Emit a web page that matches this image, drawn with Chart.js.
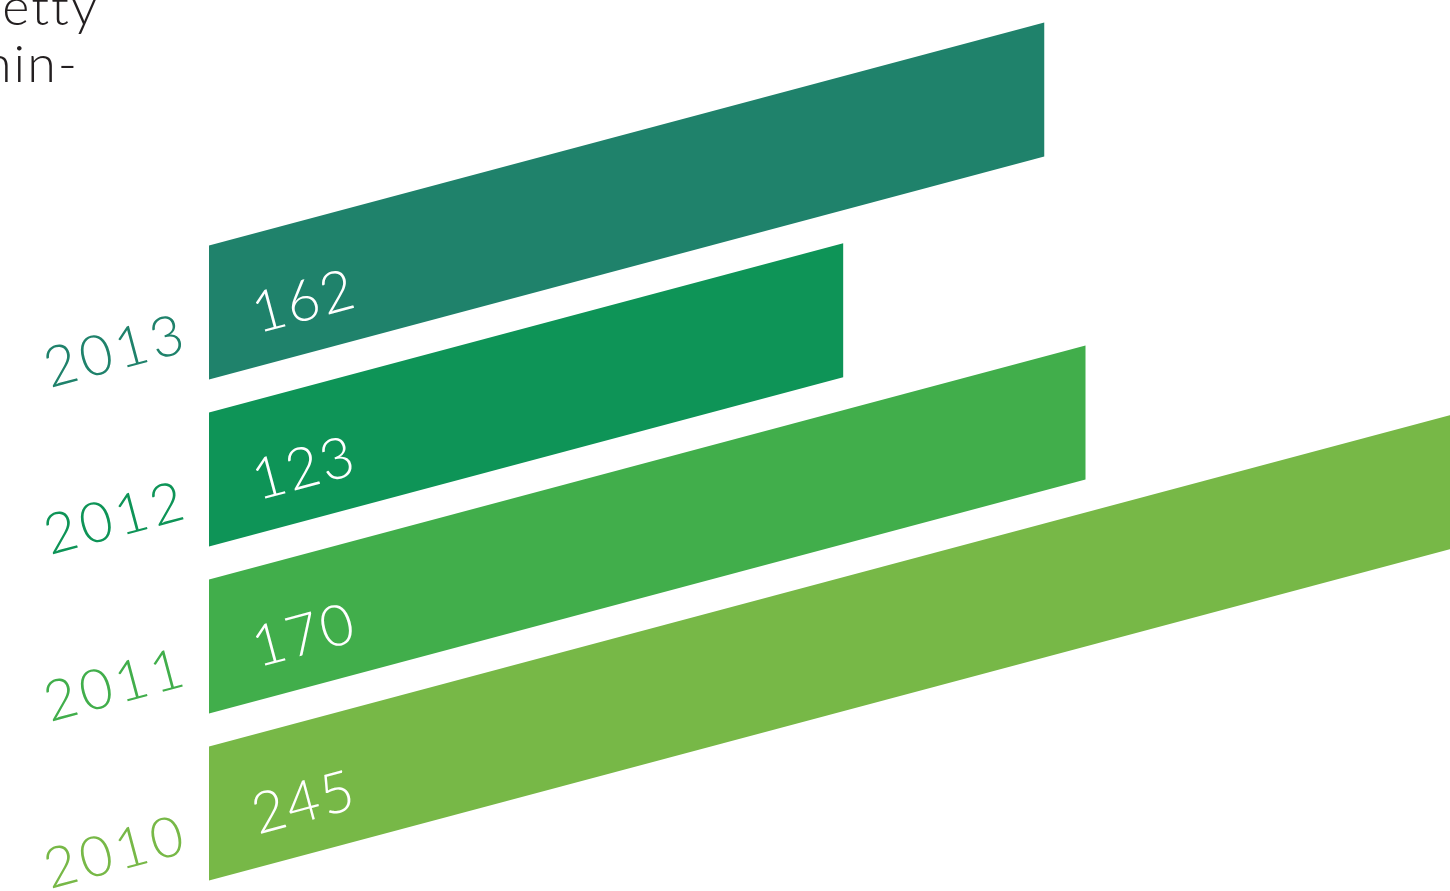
<!DOCTYPE html>
<html>
<head>
<meta charset="utf-8">
<script src="https://cdn.jsdelivr.net/npm/chart.js@4"></script>
<style>
  html, body { margin: 0; padding: 0; background: #fff; overflow: hidden; }
  #wrap { position: absolute; left: 0; top: 0; width: 1500px; height: 900px; }
</style>
</head>
<body>
<div id="wrap"><canvas id="stats" width="1500" height="900"></canvas></div>
<script>
// data
var years = ['2013', '2012', '2011', '2010'];
var values = [162, 123, 170, 245];
var colors = ['#1f826b', '#0e9457', '#41ae4b', '#77b847'];
// cut-off paragraph text at the top left
var sideText = ['etty', 'hin-'];

var SLOPE = 0.267;
var FONT = '"Lato", "Open Sans", sans-serif';

// bars are drawn with a vertical shear so they slope upwards
var skewPlugin = {
  id: 'skew',
  beforeDatasetsDraw: function(chart) {
    var ctx = chart.ctx;
    var left = chart.chartArea.left;
    ctx.save();
    ctx.transform(1, -SLOPE, 0, 1, 0, SLOPE * left);
  },
  afterDatasetsDraw: function(chart) {
    var ctx = chart.ctx;
    ctx.restore();

    var left = chart.chartArea.left;
    var meta = chart.getDatasetMeta(0);
    var angle = -Math.atan(SLOPE);

    meta.data.forEach(function(bar, i) {
      var bottom = bar.y + bar.height / 2;
      function bottomAt(px) { return bottom - SLOPE * (px - left); }

      // year label, left of the bar
      var yx = left - 18;
      ctx.save();
      ctx.translate(yx, bottomAt(yx) - 34);
      ctx.rotate(angle);
      ctx.font = '300 56px ' + FONT;
      ctx.letterSpacing = '4px';
      ctx.fillStyle = colors[i];
      ctx.textAlign = 'right';
      ctx.textBaseline = 'alphabetic';
      ctx.fillText(years[i], 0, 0);
      ctx.restore();

      // value inside the bar
      var vx = left + 49;
      ctx.save();
      ctx.translate(vx, bottomAt(vx) - 33);
      ctx.rotate(angle);
      ctx.font = '300 57px ' + FONT;
      ctx.letterSpacing = '2px';
      ctx.fillStyle = '#ffffff';
      ctx.textAlign = 'left';
      ctx.textBaseline = 'alphabetic';
      ctx.fillText(String(values[i]), 0, 0);
      ctx.restore();
    });

    // text from the page column on the left
    ctx.save();
    ctx.font = '300 52px ' + FONT;
    ctx.letterSpacing = '2px';
    ctx.fillStyle = '#231f20';
    ctx.textAlign = 'right';
    ctx.fillText(sideText[0], 99, 25);
    ctx.fillText(sideText[1], 79, 82);
    ctx.restore();
  }
};

new Chart(document.getElementById('stats'), {
  type: 'bar',
  data: {
    labels: years,
    datasets: [{
      data: values,
      backgroundColor: colors,
      borderWidth: 0,
      barPercentage: 0.8024,
      categoryPercentage: 1,
      clip: false
    }]
  },
  options: {
    indexAxis: 'y',
    responsive: false,
    animation: false,
    devicePixelRatio: 1,
    layout: { padding: { left: 209, right: 2, top: 229, bottom: 3 } },
    scales: {
      x: { display: false, min: 0, max: 250 },
      y: { display: false }
    },
    plugins: {
      legend: { display: false },
      tooltip: { enabled: false }
    }
  },
  plugins: [skewPlugin]
});
</script>
</body>
</html>
